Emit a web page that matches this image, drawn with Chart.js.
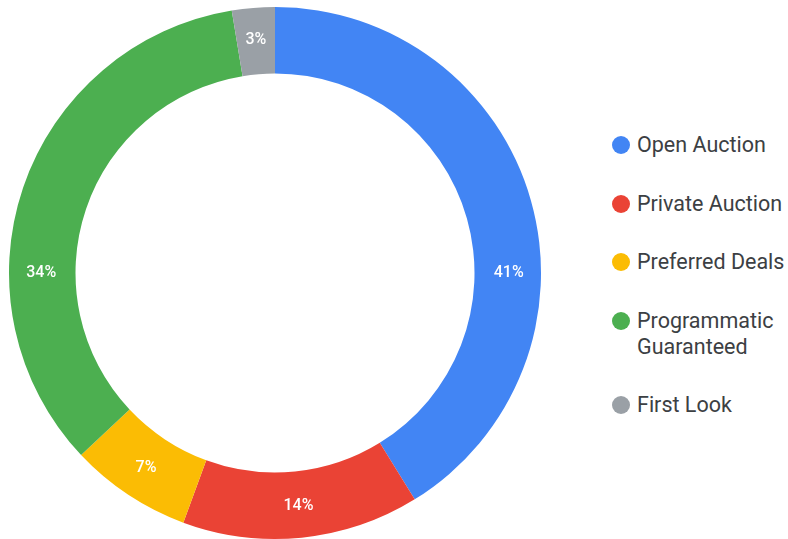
<!DOCTYPE html>
<html>
<head>
<meta charset="utf-8">
<script src="https://cdn.jsdelivr.net/npm/chart.js@4.4.0/dist/chart.umd.min.js"></script>
<style>
  html, body { margin: 0; padding: 0; background: #fff; overflow: hidden; }
  body { width: 788px; height: 539px; position: relative; font-family: Roboto, sans-serif; }
  #wrap { position: absolute; left: 0; top: 0; width: 550px; height: 560px; }
  #legend { position: absolute; left: 611px; top: 132px; list-style: none; margin: 0; padding: 0; }
  #legend li { display: flex; align-items: flex-start; margin-bottom: 32.5px; font-size: 21.5px; line-height: 26px; color: #3c4043; }
  #legend .dot { width: 18px; height: 18px; border-radius: 50%; margin: 4px 7px 0 1px; flex: none; }
  #legend .txt { width: 160px; }
</style>
</head>
<body>
<div id="wrap"><canvas id="chart"></canvas></div>
<ul id="legend"></ul>
<script>
// Data
const labels = ['Open Auction', 'Private Auction', 'Preferred Deals', 'Programmatic Guaranteed', 'First Look'];
const shares = [41.2, 14.4, 7.4, 34.4, 2.6];
const pctLabels = ['41%', '14%', '7%', '34%', '3%'];
const colors = ['#4285F4', '#EA4335', '#FBBC04', '#4CAF50', '#9AA0A6'];

// Percentage text inside each slice. Slices that cross the 3 o'clock or
// 9 o'clock direction get their label on that horizontal line.
const sliceLabels = {
    id: 'sliceLabels',
    afterDatasetsDraw(chart) {
        const ctx = chart.ctx;
        const meta = chart.getDatasetMeta(0);
        ctx.save();
        ctx.fillStyle = '#ffffff';
        ctx.font = '500 16px Roboto, sans-serif';
        ctx.textAlign = 'center';
        ctx.textBaseline = 'middle';
        meta.data.forEach((arc, i) => {
            const p = arc.getProps(['x', 'y', 'startAngle', 'endAngle', 'innerRadius', 'outerRadius']);
            let a = (p.startAngle + p.endAngle) / 2;
            for (const h of [0, Math.PI, 2 * Math.PI]) {
                if (p.startAngle < h && p.endAngle > h) a = h;
            }
            const r = (p.innerRadius + p.outerRadius) / 2 + 1;
            ctx.fillText(pctLabels[i], p.x + Math.cos(a) * r, p.y + Math.sin(a) * r);
        });
        ctx.restore();
    }
};

const ctx = document.getElementById('chart').getContext('2d');
new Chart(ctx, {
    type: 'doughnut',
    data: {
        labels: labels,
        datasets: [{
            data: shares,
            backgroundColor: colors,
            borderWidth: 0
        }]
    },
    options: {
        responsive: true,
        maintainAspectRatio: false,
        animation: false,
        cutout: '75%',
        layout: { padding: { left: 9, right: 9, top: 7, bottom: 21 } },
        plugins: {
            legend: { display: false },
            tooltip: { enabled: false }
        }
    },
    plugins: [sliceLabels]
});

// HTML legend built from the same arrays
const legend = document.getElementById('legend');
labels.forEach((name, i) => {
    const li = document.createElement('li');
    const dot = document.createElement('span');
    dot.className = 'dot';
    dot.style.background = colors[i];
    const txt = document.createElement('span');
    txt.className = 'txt';
    txt.textContent = name;
    li.appendChild(dot);
    li.appendChild(txt);
    legend.appendChild(li);
});
</script>
</body>
</html>
